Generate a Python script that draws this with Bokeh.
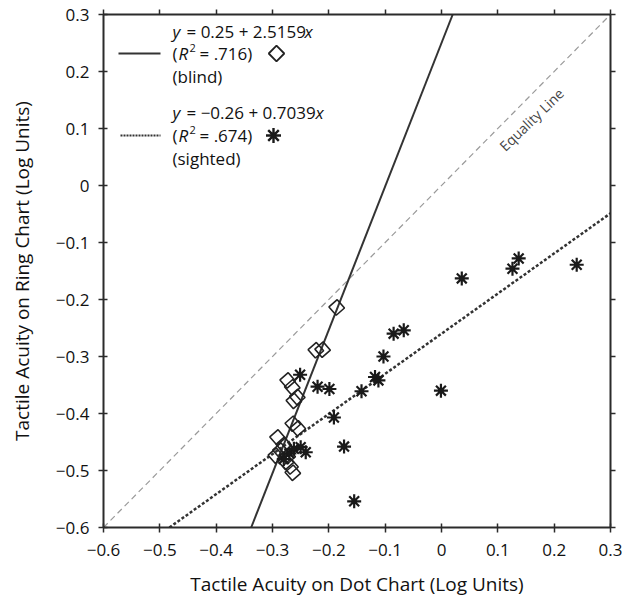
from bokeh.plotting import figure
from bokeh.models import Range1d, FixedTicker, LinearAxis, Label
from bokeh.embed import file_html
from bokeh.resources import INLINE

# ---------------- data ----------------
TICKS = [-0.6, -0.5, -0.4, -0.3, -0.2, -0.1, 0.0, 0.1, 0.2, 0.3]
TICK_LABELS = ["−0.6", "−0.5", "−0.4", "−0.3", "−0.2", "−0.1", "0", "0.1", "0.2", "0.3"]

blind_x = [-0.186, -0.223, -0.211, -0.273, -0.265, -0.256, -0.262, -0.264, -0.255,
           -0.291, -0.286, -0.273, -0.268, -0.264, -0.294, -0.280, -0.276]
blind_y = [-0.214, -0.289, -0.288, -0.342, -0.354, -0.371, -0.378, -0.418, -0.426,
           -0.442, -0.465, -0.475, -0.493, -0.504, -0.474, -0.455, -0.485]

sighted_x = [0.036, 0.126, 0.137, 0.240, -0.085, -0.067, -0.103, -0.118, -0.112,
             -0.142, -0.001, -0.199, -0.220, -0.251, -0.191, -0.173, -0.155,
             -0.241, -0.250, -0.270, -0.280, -0.262]
sighted_y = [-0.163, -0.146, -0.128, -0.139, -0.260, -0.254, -0.300, -0.336, -0.342,
             -0.361, -0.360, -0.357, -0.353, -0.332, -0.407, -0.458, -0.554,
             -0.468, -0.459, -0.470, -0.480, -0.462]

blind_intercept, blind_slope = 0.25, 2.5159
sighted_intercept, sighted_slope = -0.26, 0.7039
blind_r2 = ".716"
sighted_r2 = ".674"

X_TITLE = "Tactile Acuity on Dot Chart (Log Units)"
Y_TITLE = "Tactile Acuity on Ring Chart (Log Units)"

# ---------------- layout ----------------
W, H = 622, 600
BL, BR, BT, BB = 103, 12, 14, 73
FW, FH = W - BL - BR, H - BT - BB
XMIN, XMAX, YMIN, YMAX = TICKS[0], TICKS[-1], TICKS[0], TICKS[-1]
FONT = "Open Sans"
INK = "#2b2b2b"


def dx(px):  # picture px -> data x
    return XMIN + (px - BL) / FW * (XMAX - XMIN)


def dy(py):  # picture px -> data y
    return YMAX - (py - BT) / FH * (YMAX - YMIN)


p = figure(width=W, height=H, output_backend="svg", toolbar_location=None,
           x_range=Range1d(XMIN, XMAX), y_range=Range1d(YMIN, YMAX),
           min_border_left=BL, min_border_right=BR, min_border_top=BT,
           min_border_bottom=BB, outline_line_color=None)
p.xgrid.visible = False
p.ygrid.visible = False

overrides = {t: l for t, l in zip(TICKS, TICK_LABELS)}
for ax in (p.xaxis[0], p.yaxis[0]):
    ax.ticker = FixedTicker(ticks=TICKS)
    ax.major_label_overrides = overrides
    ax.minor_tick_line_color = None
    ax.major_tick_in = 4
    ax.major_tick_out = 5
    ax.major_tick_line_width = 1.5
    ax.major_tick_line_color = INK
    ax.axis_line_width = 2
    ax.axis_line_color = INK
    ax.major_label_text_font = FONT
    ax.major_label_text_font_size = "17px"
    ax.major_label_text_color = "#111111"
    ax.axis_label_text_font = FONT
    ax.axis_label_text_font_size = "19px"
    ax.axis_label_text_font_style = "normal"
    ax.axis_label_text_color = "#111111"
p.xaxis[0].axis_label = X_TITLE
p.yaxis[0].axis_label = Y_TITLE
p.xaxis[0].major_label_standoff = 11
p.xaxis[0].axis_label_standoff = 12
p.yaxis[0].major_label_standoff = 9
p.yaxis[0].axis_label_standoff = 18

blank = {t: "" for t in TICKS}
for loc in ("above", "right"):
    ax = LinearAxis(ticker=FixedTicker(ticks=TICKS), major_label_overrides=blank,
                    minor_tick_line_color=None, major_tick_in=0, major_tick_out=5,
                    major_tick_line_width=1.5, major_tick_line_color=INK,
                    axis_line_width=2, axis_line_color=INK,
                    major_label_standoff=0)
    p.add_layout(ax, loc)

# equality line
p.line([XMIN, XMAX], [YMIN, YMAX], line_color="#9a9a9a", line_width=1.2, line_dash="6 4")
p.add_layout(Label(x=dx(531), y=dy(119), text="Equality Line", angle=44, angle_units="deg",
                   text_align="center", text_baseline="middle", text_font=FONT,
                   text_font_size="14px", text_color="#444444"))

# regression lines
bx = [(YMIN - blind_intercept) / blind_slope, (YMAX - blind_intercept) / blind_slope]
by = [blind_intercept + blind_slope * v for v in bx]
p.line(bx, by, line_color="#333333", line_width=2)

sx = [(YMIN - sighted_intercept) / sighted_slope, XMAX]
sy = [sighted_intercept + sighted_slope * v for v in sx]
p.line(sx, sy, line_color="#333333", line_width=2.5, line_dash="3 2")

# points
p.scatter(blind_x, blind_y, marker="square", size=11, angle=0.72, fill_alpha=0,
          line_color="#222222", line_width=1.6)
p.scatter(sighted_x, sighted_y, marker="asterisk", size=14, line_color="#1a1a1a",
          line_width=2.2)
p.scatter(sighted_x, sighted_y, marker="circle", size=5, fill_color="#1a1a1a",
          line_color=None)

# ---------------- legend ----------------
p.line([dx(118), dx(160)], [dy(53), dy(53)], line_color="#333333", line_width=2)
p.line([dx(120), dx(160)], [dy(135), dy(135)], line_color="#333333", line_width=2,
       line_dash="2 1")
p.scatter([dx(276)], [dy(53)], marker="square", size=11, angle=0.785, fill_alpha=0,
          line_color="#222222", line_width=1.8)
p.scatter([dx(273)], [dy(135)], marker="asterisk", size=15, line_color="#1a1a1a",
          line_width=2.4)
p.scatter([dx(273)], [dy(135)], marker="circle", size=5, fill_color="#1a1a1a",
          line_color=None)


def lab(px, py, text, style="normal", size="17px"):
    p.add_layout(Label(x=dx(px), y=dy(py), text=text, text_font=FONT,
                       text_font_size=size, text_font_style=style,
                       text_baseline="middle", text_color="#111111"))


def equation(py, intercept, slope, x_at):
    sign = "−" if intercept < 0 else ""
    lab(172, py, "y", "italic")
    lab(186, py, "= " + sign + f"{abs(intercept):.2f} + {slope:.4f}")
    lab(x_at, py, "x", "italic")


def r2(py, val):
    lab(172, py, "(")
    lab(178, py, "R", "italic")
    lab(189, py - 6, "2", size="11px")
    lab(199, py, "= " + val + ")")


equation(31, blind_intercept, blind_slope, 304)
r2(53, blind_r2)
lab(172, 76, "(blind)")
equation(112, sighted_intercept, sighted_slope, 315)
r2(135, sighted_r2)
lab(172, 158, "(sighted)")

open("out.html", "w").write(file_html(p, INLINE))
